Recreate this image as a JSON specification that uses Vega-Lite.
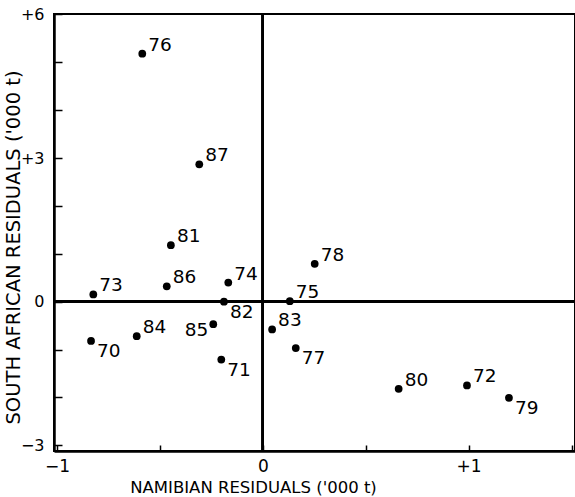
{
  "$schema": "https://vega.github.io/schema/vega-lite/v6.json",
  "autosize": "none",
  "padding": {"left": 54, "top": 14, "right": 0, "bottom": 46},
  "width": 521,
  "height": 437,
  "background": "white",
  "config": {
    "view": {"stroke": "black", "strokeWidth": 2},
    "font": "DejaVu Sans"
  },
  "data": {
    "values": [
      {"year": "70", "nam": -0.835, "sa": -0.82},
      {"year": "71", "nam": -0.202, "sa": -1.21},
      {"year": "72", "nam": 0.992, "sa": -1.75},
      {"year": "73", "nam": -0.824, "sa": 0.15},
      {"year": "74", "nam": -0.168, "sa": 0.40},
      {"year": "75", "nam": 0.131, "sa": 0.01},
      {"year": "76", "nam": -0.586, "sa": 5.18},
      {"year": "77", "nam": 0.160, "sa": -0.97},
      {"year": "78", "nam": 0.252, "sa": 0.79},
      {"year": "79", "nam": 1.196, "sa": -2.01},
      {"year": "80", "nam": 0.660, "sa": -1.82},
      {"year": "81", "nam": -0.447, "sa": 1.18},
      {"year": "82", "nam": -0.189, "sa": 0.0},
      {"year": "83", "nam": 0.045, "sa": -0.58},
      {"year": "84", "nam": -0.613, "sa": -0.72},
      {"year": "85", "nam": -0.241, "sa": -0.47},
      {"year": "86", "nam": -0.467, "sa": 0.32},
      {"year": "87", "nam": -0.309, "sa": 2.87}
    ]
  },
  "encoding": {
    "x": {
      "field": "nam", "type": "quantitative",
      "scale": {"domain": [-1.015, 1.517], "nice": false, "zero": false},
      "axis": {
        "title": "NAMIBIAN RESIDUALS ('000 t)",
        "titleFont": "DejaVu Sans", "titleFontSize": 16.5, "titleFontWeight": "normal", "titleColor": "black",
        "titleX": 199, "titleY": 36, "titleBaseline": "middle", "titleAlign": "center",
        "values": [-1, -0.5, 0, 0.5, 1, 1.5],
        "labelExpr": "datum.value == 0 ? '0' : (datum.value % 1 != 0 ? '' : (datum.value > 0 ? '+' + datum.value : '−' + abs(datum.value)))",
        "labelFont": "DejaVu Sans", "labelFontSize": 17, "labelColor": "black",
        "labelPadding": 13, "labelFlush": false, "labelOverlap": false,
        "tickSize": -6, "tickColor": "black", "tickWidth": 1.5,
        "domainColor": "black", "domainWidth": 2.5, "grid": false
      }
    },
    "y": {
      "field": "sa", "type": "quantitative",
      "scale": {"domain": [-3.12, 6.01], "nice": false, "zero": false},
      "axis": {
        "title": "SOUTH AFRICAN RESIDUALS ('000 t)",
        "titleFont": "DejaVu Sans", "titleFontSize": 19.5, "titleFontWeight": "normal", "titleColor": "black",
        "titleX": -41, "titleY": 233, "titleBaseline": "middle", "titleAlign": "center",
        "values": [-3, -2, -1, 0, 1, 2, 3, 4, 5, 6],
        "labelExpr": "datum.value == 0 ? '0' : (datum.value % 3 != 0 ? '' : (datum.value > 0 ? '+' + datum.value : '−' + abs(datum.value)))",
        "labelFont": "DejaVu Sans", "labelFontSize": 16, "labelColor": "black",
        "labelPadding": 18, "labelFlush": false, "labelOverlap": false,
        "tickSize": -8, "tickColor": "black", "tickWidth": 1.5,
        "domainColor": "black", "domainWidth": 2.5, "grid": false
      }
    }
  },
  "layer": [
    {"mark": {"type": "rule", "color": "black", "strokeWidth": 2}, "encoding": {"x": {"datum": 0}, "y": null}},
    {"mark": {"type": "rule", "color": "black", "strokeWidth": 2}, "encoding": {"y": {"datum": 0}, "x": null}},
    {"mark": {"type": "point", "filled": true, "color": "black", "opacity": 1, "size": 60}},
    {
      "transform": [{"filter": "indexof(['70','71','77','79','82','85'], datum.year) < 0"}],
      "mark": {"type": "text", "align": "left", "baseline": "middle", "dx": 6, "dy": -9, "fontSize": 18.5, "font": "DejaVu Sans", "color": "black"},
      "encoding": {"text": {"field": "year"}}
    },
    {
      "transform": [{"filter": "indexof(['70','71','77','79','82'], datum.year) >= 0"}],
      "mark": {"type": "text", "align": "left", "baseline": "middle", "dx": 6, "dy": 10, "fontSize": 18.5, "font": "DejaVu Sans", "color": "black"},
      "encoding": {"text": {"field": "year"}}
    },
    {
      "transform": [{"filter": "datum.year == '85'"}],
      "mark": {"type": "text", "align": "right", "baseline": "middle", "dx": -5, "dy": 6, "fontSize": 18.5, "font": "DejaVu Sans", "color": "black"},
      "encoding": {"text": {"field": "year"}}
    }
  ]
}
